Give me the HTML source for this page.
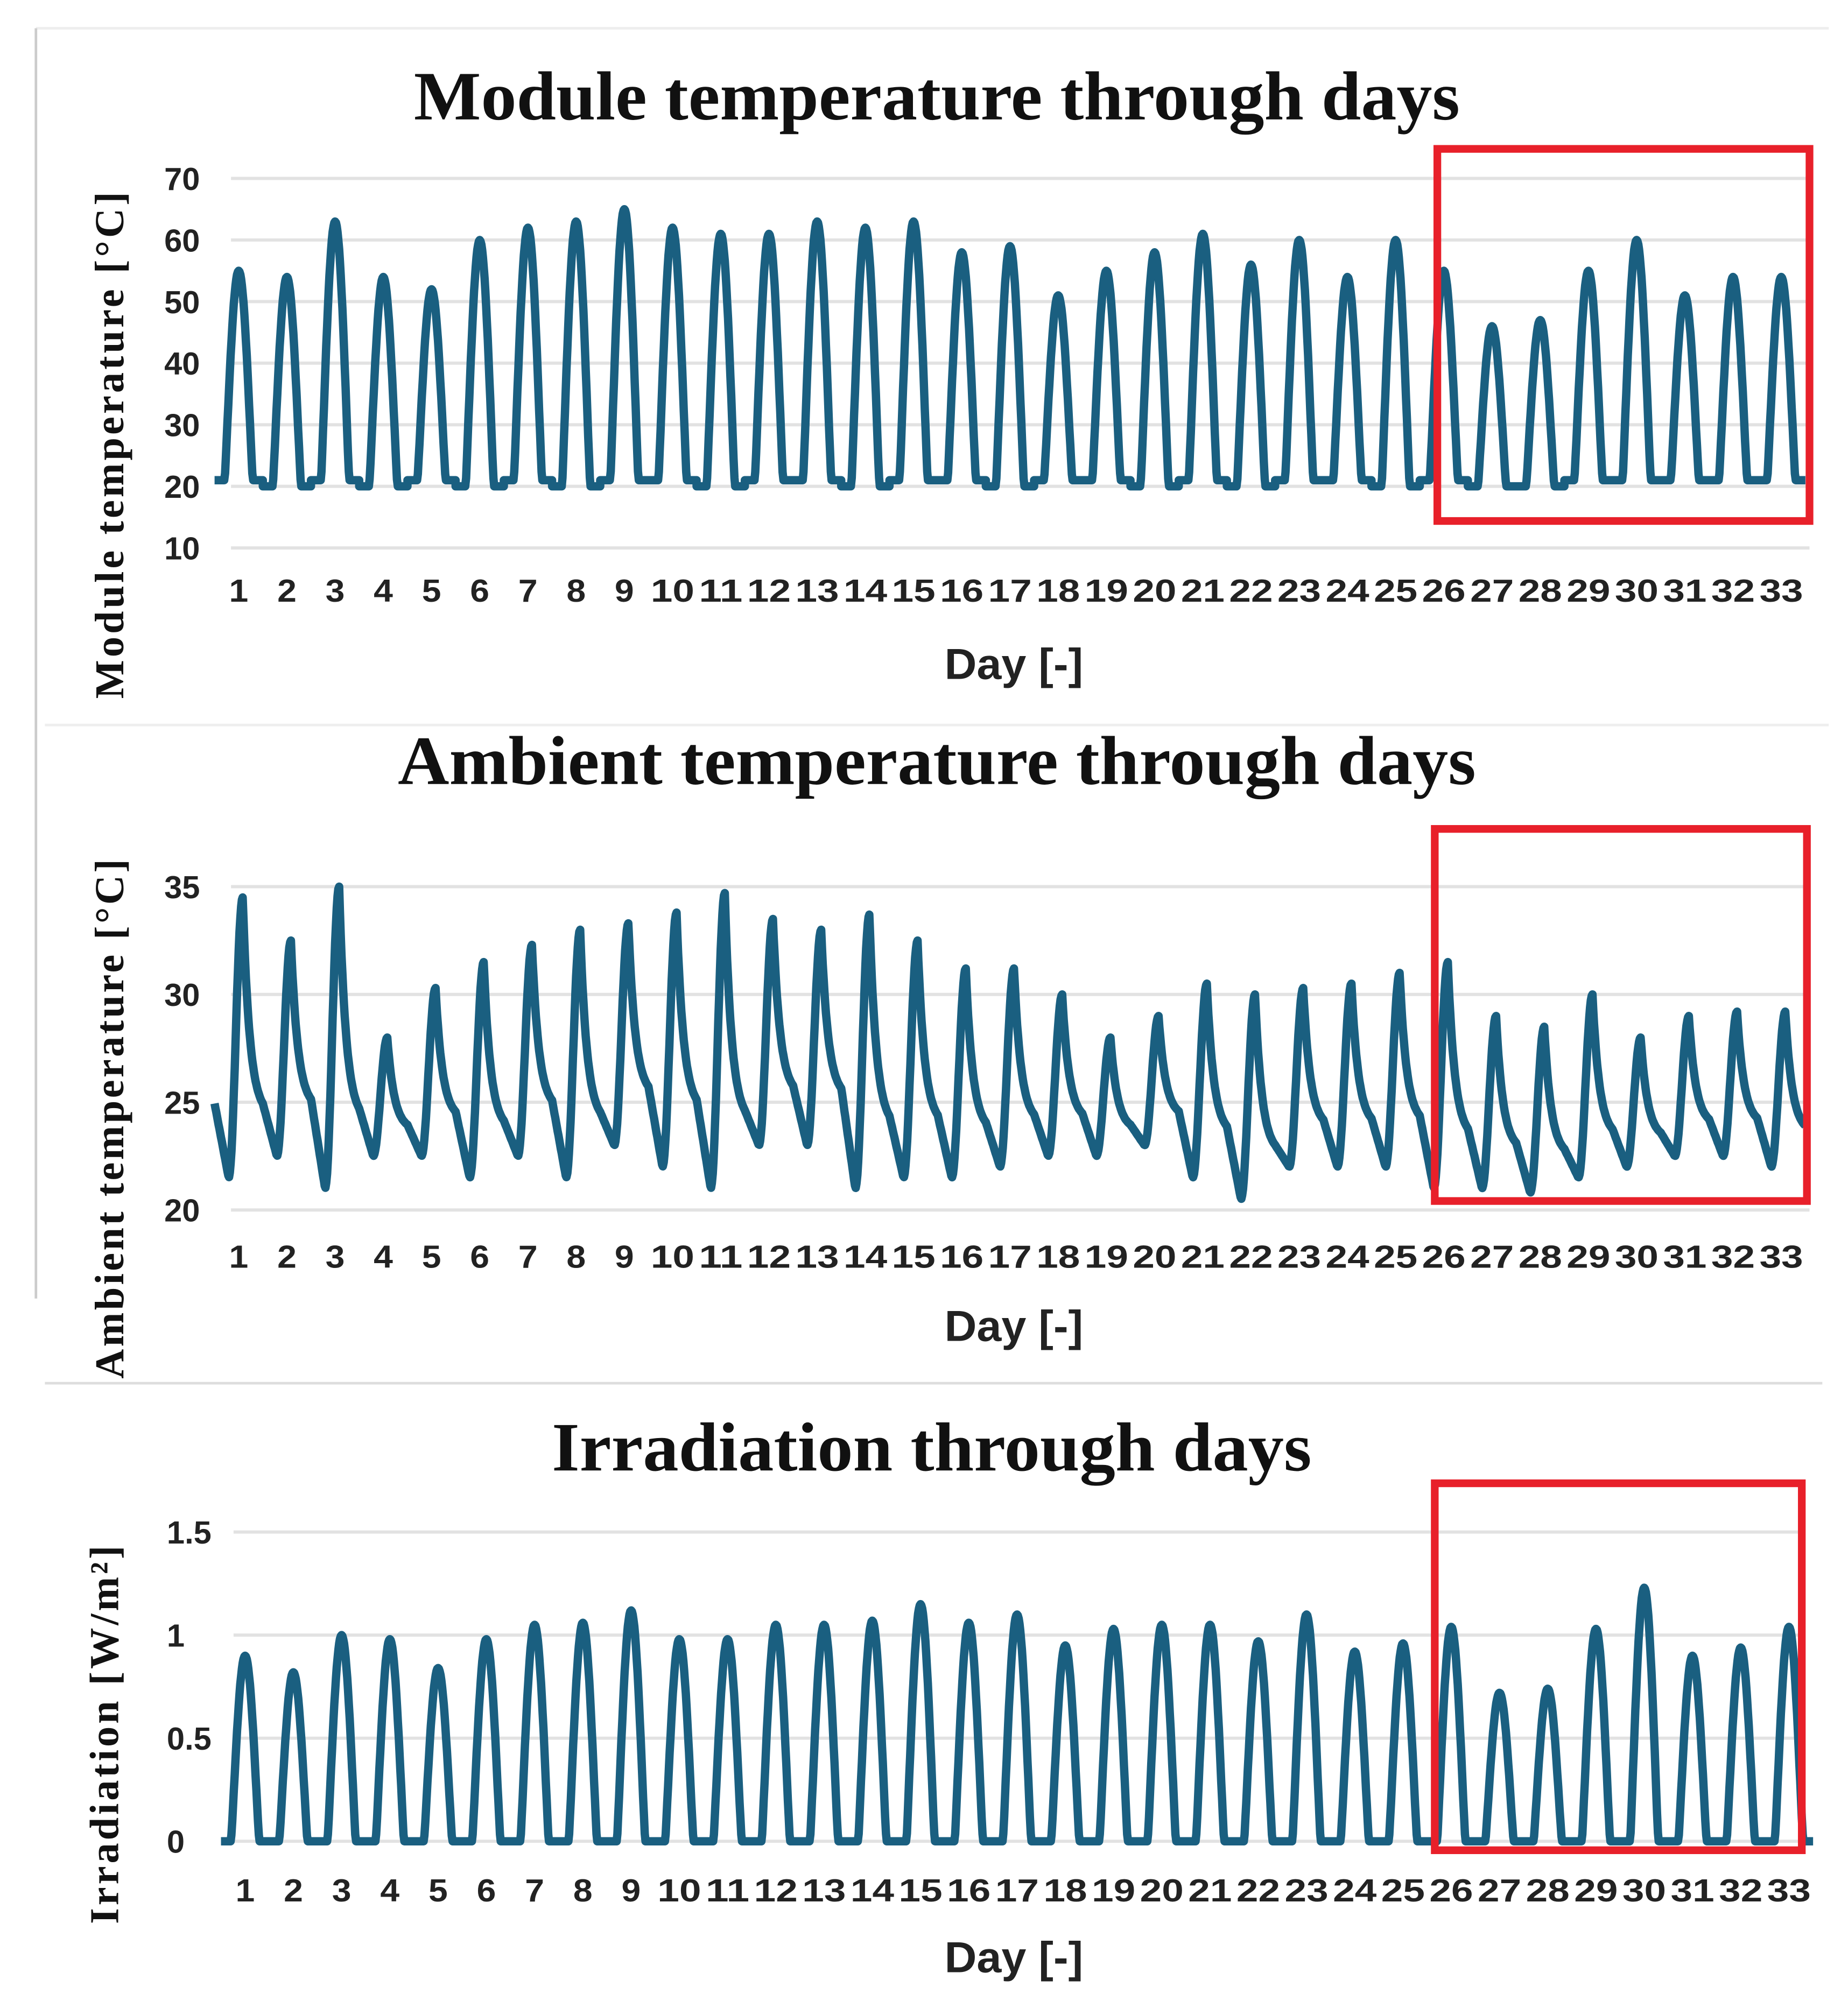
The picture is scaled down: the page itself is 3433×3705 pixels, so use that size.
<!DOCTYPE html>
<html><head><meta charset="utf-8">
<style>
html,body{margin:0;padding:0;background:#fff;}
svg{display:block;}
.t{font-family:"Liberation Serif",serif;font-weight:bold;fill:#111;}
.k{font-family:"Liberation Sans",sans-serif;font-weight:bold;fill:#222;font-size:25px;}
.ax{font-family:"Liberation Sans",sans-serif;font-weight:bold;fill:#222;font-size:34px;}
</style></head>
<body>
<svg id="fig" width="3433" height="3705" viewBox="0 0 1440 1554" xmlns="http://www.w3.org/2000/svg">
<line x1="28" y1="22" x2="1425" y2="22" stroke="#eee" stroke-width="2"/>
<line x1="28" y1="22" x2="28" y2="1012" stroke="#ccc" stroke-width="2"/>
<line x1="35" y1="565" x2="1425" y2="565" stroke="#eee" stroke-width="2"/>
<line x1="35" y1="1078" x2="1420" y2="1078" stroke="#ddd" stroke-width="2"/>
<g id="charts"></g>
</svg>
<script>
const days = Array.from({length:33},(_,i)=>i+1);
const modulePeaks = [55,54,63,54,52,60,62,63,65,62,61,61,63,62,63,58,59,51,55,58,61,56,60,54,60,55,46,47,55,60,51,54,54];
const moduleBase = [21,20,21,20,21,20,21,20,21,21,20,21,21,20,21,21,20,21,21,20,21,20,21,21,20,21,20,20,21,21,21,21,21];
const moduleTicks = [10,20,30,40,50,60,70];
const ambientPeaks = [34.5,32.5,35,28,30.3,31.5,32.3,33,33.3,33.8,34.7,33.5,33,33.7,32.5,31.2,31.2,30,28,29,30.5,30,30.3,30.5,31,31.5,29,28.5,30,28,29,29.2,29.2];
const ambientBase = [21.5,22.5,21,22.5,22.5,21.5,22.5,21.5,23,22,21,23,23,21,21.5,21.5,22,22.5,22.5,23,21.5,20.5,22,22,22,21,21,20.8,21.5,22,22.5,22.5,22];
const ambientTicks = [20,25,30,35];
const irrPeaks = [0.9,0.82,1.0,0.98,0.84,0.98,1.05,1.06,1.12,0.98,0.98,1.05,1.05,1.07,1.15,1.06,1.1,0.95,1.03,1.05,1.05,0.97,1.1,0.92,0.96,1.04,0.72,0.74,1.03,1.23,0.9,0.94,1.04];
const irrBase = days.map(()=>0);
const irrTicks = [0,0.5,1,1.5];
const irrTickLabels = ["0","0.5","1","1.5"];

const NS="http://www.w3.org/2000/svg";
const root=document.getElementById('charts');
function mk(tag,attrs,parent){const e=document.createElementNS(NS,tag);for(const k in attrs)e.setAttribute(k,attrs[k]);(parent||root).appendChild(e);return e;}

function chart(cfg){
  const g=mk('g',{});
  
  
  const y=v=>cfg.y0+(v-cfg.v0)*(cfg.y1-cfg.y0)/(cfg.v1-cfg.v0);
  const x=d=>cfg.x1+(d-1)*(cfg.x33-cfg.x1)/32;
  const t=mk('text',{x:cfg.tx,y:cfg.ty,'text-anchor':'middle','font-size':54,class:'t',textLength:cfg.tl,lengthAdjust:'spacingAndGlyphs'},g);
  t.textContent=cfg.title;
  
  
  cfg.ticks.forEach((v,i)=>{
    const l=mk('line',{x1:cfg.px0,x2:cfg.px1,y1:y(v),y2:y(v),stroke:'#e2e2e2','stroke-width':2.5},g);
    
    
    const tx=mk('text',{x:cfg.px0-52,y:y(v)+9,'text-anchor':'start',class:'k'},g);
    tx.textContent=cfg.tickLabels?cfg.tickLabels[i]:String(v);
    
    
  });
  days.forEach(d=>{
    const s=String(d);
    const tx=mk('text',{x:x(d),y:cfg.ly,'text-anchor':'middle',class:'k','font-size':26,textLength:s.length>1?34:15,lengthAdjust:'spacingAndGlyphs'},g);
    tx.textContent=s;
    
    
  });
  const xt=mk('text',{x:790,y:cfg.dy,'text-anchor':'middle',class:'ax',textLength:108,lengthAdjust:'spacingAndGlyphs'},g);
  xt.textContent='Day [-]';
  
  
  const yt=mk('text',{x:0,y:0,'text-anchor':'middle','font-size':32,class:'t',textLength:cfg.ytl,lengthAdjust:'spacing',transform:`translate(${cfg.yx},${cfg.yy}) rotate(-90)`},g);
  yt.textContent=cfg.ytitle;
  
  
  let pts=[];
  const step=(cfg.x33-cfg.x1)/32;
  const R=0.22;
  days.forEach((d,i)=>{
    const pk=cfg.peaks[i], b=cfg.base[i];
    for(let h=0;h<24;h+=0.4){
      let v;
      if(cfg.kind==='amb'){
        const pb=i>0?cfg.base[i-1]:b, ppk=i>0?cfg.peaks[i-1]:pk;
        const res=pb+(ppk-pb)*(R+(1-R)*Math.exp(-10/3.5));
        if(h<7){ v=res+(b-res)*(h/7); }
        else if(h<14){ const s=(1-Math.cos(Math.PI*(h-7)/7))/2; v=b+(pk-b)*s; }
        else { v=b+(pk-b)*(R+(1-R)*Math.exp(-(h-14)/3.5)); }
      } else {
        const a=Math.sin(Math.PI*(h-5)/14); const s=a>0?Math.pow(a,cfg.kind==='mod'?1.1:1.1):0;
        v=b+(pk-b)*s;
      }
      pts.push([x(d)+(h-12)/24*step, y(v)]);
    }
  });
  const p=mk('path',{d:'M'+pts.map(q=>q[0].toFixed(1)+','+q[1].toFixed(1)).join('L'),fill:'none',stroke:'#1a5f80','stroke-width':6.5,'stroke-linejoin':'round'},g);
  
  
  const r=mk('rect',{x:cfg.box[0],y:cfg.box[1],width:cfg.box[2]-cfg.box[0],height:cfg.box[3]-cfg.box[1],fill:'none',stroke:'#e8202a','stroke-width':6},g);
  
  
}
chart({name:'module-temperature-chart',title:'Module temperature through days',tx:730,ty:93,tl:815,
  v0:10,v1:70,y0:427,y1:139,px0:180,px1:1410,x1:186,x33:1388,ly:469,dy:529,yx:96,yy:347,ytl:395,
  ticks:moduleTicks,peaks:modulePeaks,base:moduleBase,kind:'mod',ytitle:'Module temperature  [°C]',box:[1120,116,1410,406]});
chart({name:'ambient-temperature-chart',title:'Ambient temperature through days',tx:730,ty:611,tl:840,
  v0:20,v1:35,y0:943,y1:691,px0:180,px1:1410,x1:186,x33:1388,ly:988,dy:1045,yx:96,yy:872,ytl:405,
  ticks:ambientTicks,peaks:ambientPeaks,base:ambientBase,kind:'amb',ytitle:'Ambient temperature  [°C]',box:[1118,646,1408,936]});
chart({name:'irradiation-chart',title:'Irradiation through days',tx:726,ty:1146,tl:592,
  v0:0,v1:1.5,y0:1435,y1:1194,px0:182,px1:1405,x1:191,x33:1394,ly:1482,dy:1537,yx:92,yy:1352,ytl:295,
  ticks:irrTicks,tickLabels:irrTickLabels,peaks:irrPeaks,base:irrBase,kind:'irr',ytitle:'Irradiation  [W/m²]',box:[1118,1156,1404,1442]});
</script>
</body></html>
